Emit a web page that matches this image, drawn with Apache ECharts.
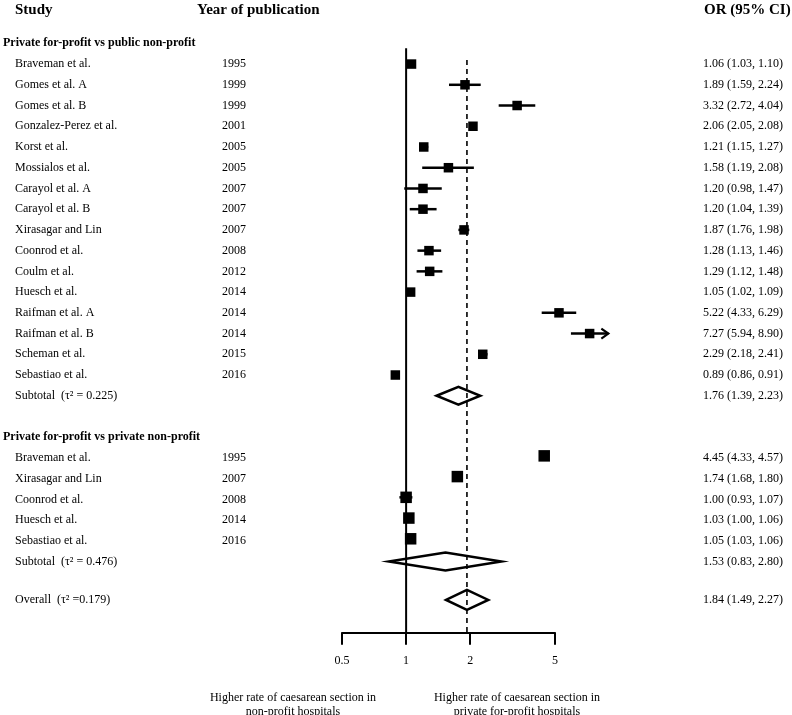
<!DOCTYPE html>
<html><head><meta charset="utf-8">
<script src="https://cdn.jsdelivr.net/npm/echarts@6/dist/echarts.min.js"></script>
<style>html,body{margin:0;padding:0;background:#fff}#c{width:792px;height:715px}</style>
</head><body><div id="c"></div>
<script>
// ---------- data ----------
const group1Title = 'Private for-profit vs public non-profit';
const group1Studies = ['Braveman et al.', 'Gomes et al. A', 'Gomes et al. B', 'Gonzalez-Perez et al.', 'Korst et al.', 'Mossialos et al.', 'Carayol et al. A', 'Carayol et al. B', 'Xirasagar and Lin', 'Coonrod et al.', 'Coulm et al.', 'Huesch et al.', 'Raifman et al. A', 'Raifman et al. B', 'Scheman et al.', 'Sebastiao et al.'];
const group1Years = ['1995', '1999', '1999', '2001', '2005', '2005', '2007', '2007', '2007', '2008', '2012', '2014', '2014', '2014', '2015', '2016'];
const group1OR = [1.06, 1.89, 3.32, 2.06, 1.21, 1.58, 1.20, 1.20, 1.87, 1.28, 1.29, 1.05, 5.22, 7.27, 2.29, 0.89];
const group1Lower = [1.03, 1.59, 2.72, 2.05, 1.15, 1.19, 0.98, 1.04, 1.76, 1.13, 1.12, 1.02, 4.33, 5.94, 2.18, 0.86];
const group1Upper = [1.10, 2.24, 4.04, 2.08, 1.27, 2.08, 1.47, 1.39, 1.98, 1.46, 1.48, 1.09, 6.29, 8.90, 2.41, 0.91];
const group1Subtotal = [1.76, 1.39, 2.23];
const group1Tau = '0.225';

const group2Title = 'Private for-profit vs private non-profit';
const group2Studies = ['Braveman et al.', 'Xirasagar and Lin', 'Coonrod et al.', 'Huesch et al.', 'Sebastiao et al.'];
const group2Years = ['1995', '2007', '2008', '2014', '2016'];
const group2OR = [4.45, 1.74, 1.00, 1.03, 1.05];
const group2Lower = [4.33, 1.68, 0.93, 1.00, 1.03];
const group2Upper = [4.57, 1.80, 1.07, 1.06, 1.06];
const group2Subtotal = [1.53, 0.83, 2.80];
const group2Tau = '0.476';

const overallReported = [1.84, 1.49, 2.27];
const overallDrawn = [1.93, 1.54, 2.43];   // diamond as drawn in the figure
const overallTau = '0.179';
const arrowStudies = ['Raifman et al. B']; // CI truncated with arrow

const tickValues = [0.5, 1, 2, 5];
const tickLabels = ['0.5', '1', '2', '5'];

// ---------- layout ----------
const FONT = "'Liberation Serif','Times New Roman',serif";
const Y_MIN = -1, Y_MAX = 28.43;
const X_MIN = Math.log2(0.5), X_MAX = Math.log2(5);
const colX = {group: 3, study: 15, year: 222, ci: 703};
const squareSize = [9.5, 11.5];

const fmt = (e, l, u) => e.toFixed(2) + ' (' + l.toFixed(2) + ', ' + u.toFixed(2) + ')';

// build rows
const textRows = [];
const studyData = [];
const diamondData = [];
let r = 0;
function addGroup(title, names, years, ors, los, his, sub, tau, gi) {
  textRows.push({r: r, group: title}); r++;
  names.forEach((n, i) => {
    textRows.push({r: r, study: n, year: years[i], ci: fmt(ors[i], los[i], his[i])});
    studyData.push([Math.log2(los[i]), Math.log2(his[i]), Math.log2(ors[i]), r - (gi === 1 ? 0.1 : 0), gi, arrowStudies.includes(n) ? 1 : 0]);
    r++;
  });
  textRows.push({r: r, study: 'Subtotal  (\u03c4\u00b2 = ' + tau + ')', ci: fmt(sub[0], sub[1], sub[2])});
  diamondData.push([Math.log2(sub[1]), Math.log2(sub[0]), Math.log2(sub[2]), r, 9]);
  r += 2;
}
addGroup(group1Title, group1Studies, group1Years, group1OR, group1Lower, group1Upper, group1Subtotal, group1Tau, 0);
addGroup(group2Title, group2Studies, group2Years, group2OR, group2Lower, group2Upper, group2Subtotal, group2Tau, 1);
const overallRow = r - 0.15;
textRows.push({r: overallRow, study: 'Overall  (\u03c4\u00b2 =' + overallTau + ')', ci: fmt(overallReported[0], overallReported[1], overallReported[2])});
diamondData.push([Math.log2(overallDrawn[1]), Math.log2(overallDrawn[0]), Math.log2(overallDrawn[2]), overallRow, 10]);

const refX = Math.log2(overallDrawn[0]);

const chart = echarts.init(document.getElementById('c'), null, {renderer: 'canvas'});
chart.setOption({
  animation: false,
  backgroundColor: '#fff',
  grid: {left: 342, right: 237, top: 22.6, bottom: 82.3},
  xAxis: {
    type: 'value', min: X_MIN, max: X_MAX,
    splitLine: {show: false},
    axisLine: {show: true, onZero: false, lineStyle: {color: '#000', width: 2}},
    axisTick: {show: true, length: 12, lineStyle: {color: '#000', width: 2}, customValues: tickValues.map(Math.log2)},
    axisLabel: {
      customValues: tickValues.map(Math.log2), margin: 22,
      color: '#000', fontFamily: FONT, fontSize: 12,
      formatter: v => {
        let best = 0;
        tickValues.forEach((t, i) => { if (Math.abs(Math.log2(t) - v) < Math.abs(Math.log2(tickValues[best]) - v)) best = i; });
        return tickLabels[best];
      }
    }
  },
  yAxis: {type: 'value', inverse: true, min: Y_MIN, max: Y_MAX, show: false},
  graphic: [
    {type: 'text', left: 15, top: 3, style: {text: 'Study', font: 'bold 15px ' + FONT, fill: '#000'}},
    {type: 'text', left: 197, top: 3, style: {text: 'Year of publication', font: 'bold 15px ' + FONT, fill: '#000'}},
    {type: 'text', left: 704, top: 3, style: {text: 'OR (95% CI)', font: 'bold 15px ' + FONT, fill: '#000'}},
    {type: 'text', x: 293, y: 691, style: {text: 'Higher rate of caesarean section in\nnon-profit hospitals', font: '12px ' + FONT, fill: '#000', textAlign: 'center', lineHeight: 14}},
    {type: 'text', x: 517, y: 691, style: {text: 'Higher rate of caesarean section in\nprivate for-profit hospitals', font: '12px ' + FONT, fill: '#000', textAlign: 'center', lineHeight: 14}}
  ],
  series: [
    {
      type: 'line', silent: true, symbol: 'none', clip: false,
      data: [[0, 0.24], [0, Y_MAX]],
      lineStyle: {color: '#000', width: 2}
    },
    {
      type: 'line', silent: true, symbol: 'none', clip: false,
      data: [[refX, 0.8], [refX, Y_MAX]],
      lineStyle: {color: '#000', width: 1.6, type: [5, 4]}
    },
    {
      type: 'custom', silent: true, clip: false,
      data: studyData,
      renderItem: (params, api) => {
        const row = api.value(3);
        const pLo = api.coord([api.value(0), row]);
        const pHi = api.coord([api.value(1), row]);
        const pE = api.coord([api.value(2), row]);
        const s = squareSize[api.value(4)];
        const ch = [
          {type: 'line', shape: {x1: pLo[0], y1: pLo[1], x2: pHi[0], y2: pHi[1]}, style: {stroke: '#000', lineWidth: 2.5}},
          {type: 'rect', shape: {x: pE[0] - s / 2, y: pE[1] - s / 2, width: s, height: s}, style: {fill: '#000'}}
        ];
        if (api.value(5) === 1) {
          ch.push({type: 'polyline', shape: {points: [[pHi[0] - 7, pHi[1] - 5], [pHi[0], pHi[1]], [pHi[0] - 7, pHi[1] + 5]]}, style: {stroke: '#000', lineWidth: 2.2, fill: null}});
        }
        return {type: 'group', children: ch};
      }
    },
    {
      type: 'custom', silent: true, clip: false,
      data: diamondData,
      renderItem: (params, api) => {
        const row = api.value(3);
        const h = api.value(4);
        const pLo = api.coord([api.value(0), row]);
        const pE = api.coord([api.value(1), row]);
        const pHi = api.coord([api.value(2), row]);
        return {type: 'polygon', shape: {points: [[pLo[0], pLo[1]], [pE[0], pE[1] - h], [pHi[0], pHi[1]], [pE[0], pE[1] + h]]}, style: {stroke: '#000', lineWidth: 2.5, fill: null}};
      }
    },
    {
      type: 'custom', silent: true, clip: false,
      data: textRows.map(t => [0, t.r]),
      renderItem: (params, api) => {
        const t = textRows[params.dataIndex];
        const y = api.coord([0, api.value(1)])[1];
        const ch = [];
        const base = {fill: '#000', textVerticalAlign: 'middle'};
        if (t.group) ch.push({type: 'text', x: colX.group, y: y, style: Object.assign({text: t.group, font: 'bold 12px ' + FONT}, base)});
        if (t.study) ch.push({type: 'text', x: colX.study, y: y, style: Object.assign({text: t.study, font: '12px ' + FONT}, base)});
        if (t.year) ch.push({type: 'text', x: colX.year, y: y, style: Object.assign({text: t.year, font: '12px ' + FONT}, base)});
        if (t.ci) ch.push({type: 'text', x: colX.ci, y: y, style: Object.assign({text: t.ci, font: '12px ' + FONT}, base)});
        return {type: 'group', children: ch};
      }
    }
  ]
});
</script></body></html>
